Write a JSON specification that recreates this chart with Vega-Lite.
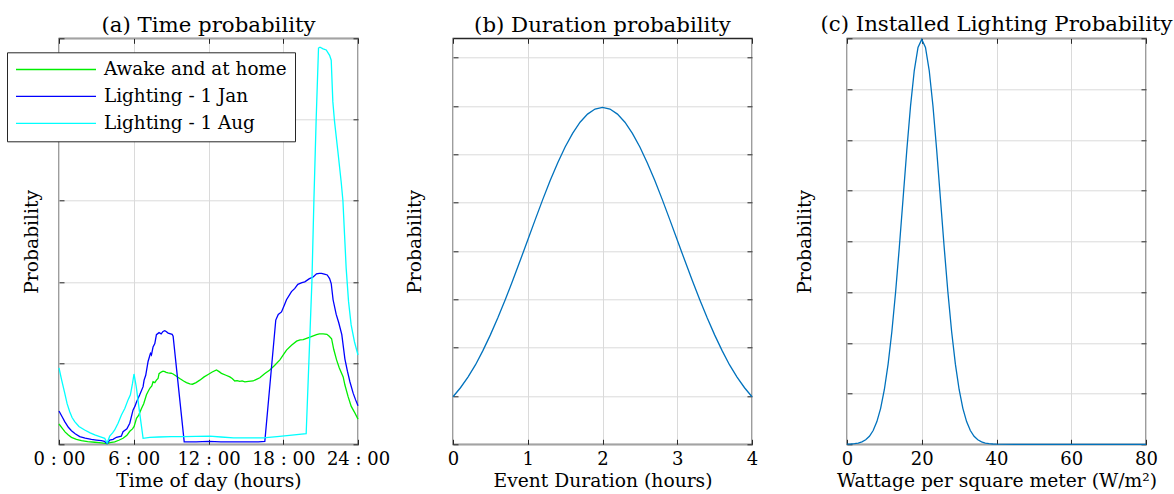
{
  "$schema": "https://vega.github.io/schema/vega-lite/v6.json",
  "padding": {"left": 5, "top": 13.3, "right": 5, "bottom": 5},
  "background": "white",
  "hconcat": [
    {
      "width": 299, "height": 406,
      "title": {"text": "(a) Time probability"},
      "data": {"name": "time"},
      "layer": [
        {
          "mark": {"type": "line", "strokeWidth": 1.3},
          "encoding": {
            "x": {"field": "h", "type": "quantitative", "scale": {"domain": [0, 24], "nice": false, "zero": false},
              "axis": {"values": [0, 6, 12, 18, 24], "labelExpr": "datum.value + ' : 00'", "title": "Time of day (hours)", "titleX": 149.5}},
            "y": {"field": "v", "type": "quantitative", "scale": {"domain": [0, 5], "nice": false},
              "axis": {"values": [0, 1, 2, 3, 4, 5], "title": "Probability", "titleX": -22}},
            "color": {"field": "s", "type": "nominal",
              "scale": {"domain": ["Awake and at home", "Lighting - 1 Jan", "Lighting - 1 Aug"], "range": ["#00ee00", "#0000ff", "#00ffff"]},
              "legend": {"orient": "none", "legendX": -52, "legendY": 14, "title": null, "symbolType": "stroke", "symbolSize": 6400, "symbolStrokeWidth": 1.3, "labelFont": "DejaVu Serif", "labelFontSize": 18.4, "labelColor": "#000000", "labelLimit": 400, "labelOffset": 7, "padding": 8, "clipHeight": 18.4, "rowPadding": 7.9, "strokeColor": "#262626", "fillColor": "#ffffff"}}
          }
        },
        {
          "mark": {"type": "point", "opacity": 0},
          "encoding": {
            "x": {"field": "h", "type": "quantitative", "scale": {"domain": [0, 24], "nice": false, "zero": false},
              "axis": {"orient": "top", "values": [0, 6, 12, 18, 24], "labels": false, "title": null, "grid": false}},
            "y": {"field": "v", "type": "quantitative", "scale": {"domain": [0, 5], "nice": false},
              "axis": {"orient": "right", "values": [0, 1, 2, 3, 4, 5], "labels": false, "title": null, "grid": false}}
          }
        }
      ],
      "resolve": {"axis": {"x": "independent", "y": "independent"}}
    },
    {
      "width": 299, "height": 406,
      "title": {"text": "(b) Duration probability"},
      "data": {"name": "duration"},
      "layer": [
        {
          "mark": {"type": "line", "strokeWidth": 1.3, "color": "#0072BD"},
          "encoding": {
            "x": {"field": "d", "type": "quantitative", "scale": {"domain": [0, 4], "nice": false, "zero": false},
              "axis": {"values": [0, 1, 2, 3, 4], "format": "d", "title": "Event Duration (hours)", "titleX": 149.5}},
            "y": {"field": "p", "type": "quantitative", "scale": {"domain": [0, 0.42], "nice": false},
              "axis": {"values": [0, 0.05, 0.1, 0.15, 0.2, 0.25, 0.3, 0.35, 0.4], "title": "Probability", "titleX": -33}}
          }
        },
        {
          "mark": {"type": "point", "opacity": 0},
          "encoding": {
            "x": {"field": "d", "type": "quantitative", "scale": {"domain": [0, 4], "nice": false, "zero": false},
              "axis": {"orient": "top", "values": [0, 1, 2, 3, 4], "labels": false, "title": null, "grid": false}},
            "y": {"field": "p", "type": "quantitative", "scale": {"domain": [0, 0.42], "nice": false},
              "axis": {"orient": "right", "values": [0, 0.05, 0.1, 0.15, 0.2, 0.25, 0.3, 0.35, 0.4], "labels": false, "title": null, "grid": false}}
          }
        }
      ],
      "resolve": {"axis": {"x": "independent", "y": "independent"}}
    },
    {
      "width": 299, "height": 406,
      "title": {"text": "(c) Installed Lighting Probability"},
      "data": {"name": "wattage"},
      "layer": [
        {
          "mark": {"type": "line", "strokeWidth": 1.3, "color": "#0072BD"},
          "encoding": {
            "x": {"field": "w", "type": "quantitative", "scale": {"domain": [0, 80], "nice": false, "zero": false},
              "axis": {"values": [0, 20, 40, 60, 80], "format": "d", "title": "Wattage per square meter (W/m²)", "titleX": 149.5}},
            "y": {"field": "p", "type": "quantitative", "scale": {"domain": [0, 0.08], "nice": false},
              "axis": {"values": [0, 0.01, 0.02, 0.03, 0.04, 0.05, 0.06, 0.07, 0.08], "title": "Probability", "titleX": -36}}
          }
        },
        {
          "mark": {"type": "point", "opacity": 0},
          "encoding": {
            "x": {"field": "w", "type": "quantitative", "scale": {"domain": [0, 80], "nice": false, "zero": false},
              "axis": {"orient": "top", "values": [0, 20, 40, 60, 80], "labels": false, "title": null, "grid": false}},
            "y": {"field": "p", "type": "quantitative", "scale": {"domain": [0, 0.08], "nice": false},
              "axis": {"orient": "right", "values": [0, 0.01, 0.02, 0.03, 0.04, 0.05, 0.06, 0.07, 0.08], "labels": false, "title": null, "grid": false}}
          }
        }
      ],
      "resolve": {"axis": {"x": "independent", "y": "independent"}}
    }
  ],
  "spacing": 95,
  "bounds": "flush",
  "resolve": {"legend": {"color": "independent"}, "scale": {"color": "independent"}},
  "config": {
    "font": "DejaVu Serif",
    "view": {"stroke": "#262626", "strokeWidth": 1.3},
    "title": {"font": "DejaVu Serif", "fontSize": 21.3, "fontWeight": "normal", "color": "#000000", "anchor": "middle", "frame": "group", "offset": 1, "baseline": "alphabetic"},
    "axis": {"labelFont": "DejaVu Serif", "labelFontSize": 18, "labelColor": "#000000", "titleFont": "DejaVu Serif", "titleFontSize": 18.7, "titleFontWeight": "normal", "titleColor": "#000000", "domain": false, "tickColor": "#262626", "tickSize": -5, "tickWidth": 1, "gridColor": "#dadada", "gridWidth": 1, "grid": true, "labelFlush": false, "labelOverlap": false},
    "axisX": {"labelBaseline": "alphabetic", "labelPadding": 25.7, "titleBaseline": "alphabetic", "titleY": 42.7},
    "axisY": {"labels": false, "titleBaseline": "alphabetic", "titleY": 203}
  },
  "datasets": {
    "time": [
      {"h":0,"v":0.25,"s":"Awake and at home"},{"h":0.25,"v":0.2,"s":"Awake and at home"},{"h":0.5,"v":0.15,"s":"Awake and at home"},{"h":0.75,"v":0.115,"s":"Awake and at home"},{"h":1,"v":0.086,"s":"Awake and at home"},{"h":1.4,"v":0.062,"s":"Awake and at home"},{"h":1.8,"v":0.045,"s":"Awake and at home"},{"h":2.3,"v":0.033,"s":"Awake and at home"},{"h":2.87,"v":0.025,"s":"Awake and at home"},{"h":3.4,"v":0.018,"s":"Awake and at home"},{"h":3.86,"v":0.008,"s":"Awake and at home"},{"h":4.1,"v":0.02,"s":"Awake and at home"},{"h":4.47,"v":0.03,"s":"Awake and at home"},{"h":4.8,"v":0.05,"s":"Awake and at home"},{"h":5.14,"v":0.074,"s":"Awake and at home"},{"h":5.45,"v":0.11,"s":"Awake and at home"},{"h":5.68,"v":0.16,"s":"Awake and at home"},{"h":5.9,"v":0.19,"s":"Awake and at home"},{"h":6.03,"v":0.22,"s":"Awake and at home"},{"h":6.22,"v":0.32,"s":"Awake and at home"},{"h":6.4,"v":0.36,"s":"Awake and at home"},{"h":6.62,"v":0.44,"s":"Awake and at home"},{"h":6.8,"v":0.5,"s":"Awake and at home"},{"h":7.02,"v":0.61,"s":"Awake and at home"},{"h":7.15,"v":0.65,"s":"Awake and at home"},{"h":7.29,"v":0.69,"s":"Awake and at home"},{"h":7.45,"v":0.72,"s":"Awake and at home"},{"h":7.55,"v":0.77,"s":"Awake and at home"},{"h":7.69,"v":0.76,"s":"Awake and at home"},{"h":7.82,"v":0.79,"s":"Awake and at home"},{"h":7.95,"v":0.81,"s":"Awake and at home"},{"h":8.03,"v":0.87,"s":"Awake and at home"},{"h":8.2,"v":0.89,"s":"Awake and at home"},{"h":8.35,"v":0.9,"s":"Awake and at home"},{"h":8.49,"v":0.894,"s":"Awake and at home"},{"h":8.6,"v":0.885,"s":"Awake and at home"},{"h":8.76,"v":0.88,"s":"Awake and at home"},{"h":9,"v":0.875,"s":"Awake and at home"},{"h":9.16,"v":0.866,"s":"Awake and at home"},{"h":9.4,"v":0.84,"s":"Awake and at home"},{"h":9.69,"v":0.81,"s":"Awake and at home"},{"h":10,"v":0.78,"s":"Awake and at home"},{"h":10.23,"v":0.76,"s":"Awake and at home"},{"h":10.5,"v":0.745,"s":"Awake and at home"},{"h":10.71,"v":0.74,"s":"Awake and at home"},{"h":11,"v":0.76,"s":"Awake and at home"},{"h":11.3,"v":0.79,"s":"Awake and at home"},{"h":11.65,"v":0.83,"s":"Awake and at home"},{"h":11.97,"v":0.86,"s":"Awake and at home"},{"h":12.3,"v":0.89,"s":"Awake and at home"},{"h":12.64,"v":0.915,"s":"Awake and at home"},{"h":12.85,"v":0.895,"s":"Awake and at home"},{"h":13.04,"v":0.874,"s":"Awake and at home"},{"h":13.4,"v":0.85,"s":"Awake and at home"},{"h":13.71,"v":0.83,"s":"Awake and at home"},{"h":13.9,"v":0.81,"s":"Awake and at home"},{"h":14.11,"v":0.78,"s":"Awake and at home"},{"h":14.3,"v":0.785,"s":"Awake and at home"},{"h":14.51,"v":0.775,"s":"Awake and at home"},{"h":14.7,"v":0.78,"s":"Awake and at home"},{"h":14.92,"v":0.77,"s":"Awake and at home"},{"h":15.2,"v":0.775,"s":"Awake and at home"},{"h":15.58,"v":0.78,"s":"Awake and at home"},{"h":15.85,"v":0.8,"s":"Awake and at home"},{"h":16.12,"v":0.82,"s":"Awake and at home"},{"h":16.5,"v":0.87,"s":"Awake and at home"},{"h":16.92,"v":0.915,"s":"Awake and at home"},{"h":17.3,"v":0.97,"s":"Awake and at home"},{"h":17.73,"v":1.04,"s":"Awake and at home"},{"h":18,"v":1.1,"s":"Awake and at home"},{"h":18.26,"v":1.16,"s":"Awake and at home"},{"h":18.66,"v":1.22,"s":"Awake and at home"},{"h":19.07,"v":1.27,"s":"Awake and at home"},{"h":19.35,"v":1.285,"s":"Awake and at home"},{"h":19.6,"v":1.29,"s":"Awake and at home"},{"h":20.14,"v":1.32,"s":"Awake and at home"},{"h":20.67,"v":1.35,"s":"Awake and at home"},{"h":20.9,"v":1.36,"s":"Awake and at home"},{"h":21.2,"v":1.36,"s":"Awake and at home"},{"h":21.5,"v":1.355,"s":"Awake and at home"},{"h":21.69,"v":1.33,"s":"Awake and at home"},{"h":21.88,"v":1.3,"s":"Awake and at home"},{"h":22.05,"v":1.17,"s":"Awake and at home"},{"h":22.28,"v":1.04,"s":"Awake and at home"},{"h":22.5,"v":0.94,"s":"Awake and at home"},{"h":22.81,"v":0.83,"s":"Awake and at home"},{"h":22.95,"v":0.73,"s":"Awake and at home"},{"h":23.2,"v":0.59,"s":"Awake and at home"},{"h":23.45,"v":0.47,"s":"Awake and at home"},{"h":23.7,"v":0.4,"s":"Awake and at home"},{"h":24,"v":0.31,"s":"Awake and at home"},
      {"h":0,"v":0.41,"s":"Lighting - 1 Jan"},{"h":0.25,"v":0.34,"s":"Lighting - 1 Jan"},{"h":0.46,"v":0.28,"s":"Lighting - 1 Jan"},{"h":0.75,"v":0.21,"s":"Lighting - 1 Jan"},{"h":1,"v":0.168,"s":"Lighting - 1 Jan"},{"h":1.3,"v":0.13,"s":"Lighting - 1 Jan"},{"h":1.66,"v":0.094,"s":"Lighting - 1 Jan"},{"h":2.1,"v":0.075,"s":"Lighting - 1 Jan"},{"h":2.6,"v":0.06,"s":"Lighting - 1 Jan"},{"h":3,"v":0.052,"s":"Lighting - 1 Jan"},{"h":3.4,"v":0.045,"s":"Lighting - 1 Jan"},{"h":3.65,"v":0.035,"s":"Lighting - 1 Jan"},{"h":3.86,"v":0.01,"s":"Lighting - 1 Jan"},{"h":4.07,"v":0.053,"s":"Lighting - 1 Jan"},{"h":4.34,"v":0.06,"s":"Lighting - 1 Jan"},{"h":4.61,"v":0.086,"s":"Lighting - 1 Jan"},{"h":5,"v":0.1,"s":"Lighting - 1 Jan"},{"h":5.14,"v":0.155,"s":"Lighting - 1 Jan"},{"h":5.45,"v":0.19,"s":"Lighting - 1 Jan"},{"h":5.68,"v":0.26,"s":"Lighting - 1 Jan"},{"h":5.94,"v":0.42,"s":"Lighting - 1 Jan"},{"h":6.1,"v":0.47,"s":"Lighting - 1 Jan"},{"h":6.22,"v":0.52,"s":"Lighting - 1 Jan"},{"h":6.48,"v":0.61,"s":"Lighting - 1 Jan"},{"h":6.75,"v":0.71,"s":"Lighting - 1 Jan"},{"h":6.83,"v":0.79,"s":"Lighting - 1 Jan"},{"h":6.96,"v":0.85,"s":"Lighting - 1 Jan"},{"h":7.15,"v":1.02,"s":"Lighting - 1 Jan"},{"h":7.34,"v":1.12,"s":"Lighting - 1 Jan"},{"h":7.42,"v":1.1,"s":"Lighting - 1 Jan"},{"h":7.55,"v":1.2,"s":"Lighting - 1 Jan"},{"h":7.69,"v":1.24,"s":"Lighting - 1 Jan"},{"h":7.82,"v":1.35,"s":"Lighting - 1 Jan"},{"h":8.03,"v":1.375,"s":"Lighting - 1 Jan"},{"h":8.2,"v":1.36,"s":"Lighting - 1 Jan"},{"h":8.35,"v":1.39,"s":"Lighting - 1 Jan"},{"h":8.49,"v":1.4,"s":"Lighting - 1 Jan"},{"h":8.6,"v":1.39,"s":"Lighting - 1 Jan"},{"h":8.76,"v":1.37,"s":"Lighting - 1 Jan"},{"h":9.08,"v":1.355,"s":"Lighting - 1 Jan"},{"h":9.16,"v":1.33,"s":"Lighting - 1 Jan"},{"h":10.05,"v":0.03,"s":"Lighting - 1 Jan"},{"h":11,"v":0.03,"s":"Lighting - 1 Jan"},{"h":12,"v":0.035,"s":"Lighting - 1 Jan"},{"h":13,"v":0.03,"s":"Lighting - 1 Jan"},{"h":14,"v":0.03,"s":"Lighting - 1 Jan"},{"h":15,"v":0.03,"s":"Lighting - 1 Jan"},{"h":16,"v":0.03,"s":"Lighting - 1 Jan"},{"h":16.52,"v":0.035,"s":"Lighting - 1 Jan"},{"h":17.4,"v":1.53,"s":"Lighting - 1 Jan"},{"h":17.6,"v":1.6,"s":"Lighting - 1 Jan"},{"h":17.86,"v":1.63,"s":"Lighting - 1 Jan"},{"h":18.1,"v":1.72,"s":"Lighting - 1 Jan"},{"h":18.26,"v":1.78,"s":"Lighting - 1 Jan"},{"h":18.66,"v":1.88,"s":"Lighting - 1 Jan"},{"h":18.93,"v":1.92,"s":"Lighting - 1 Jan"},{"h":19.17,"v":1.97,"s":"Lighting - 1 Jan"},{"h":19.5,"v":1.99,"s":"Lighting - 1 Jan"},{"h":19.73,"v":2,"s":"Lighting - 1 Jan"},{"h":20.1,"v":2.04,"s":"Lighting - 1 Jan"},{"h":20.4,"v":2.06,"s":"Lighting - 1 Jan"},{"h":20.67,"v":2.1,"s":"Lighting - 1 Jan"},{"h":20.9,"v":2.105,"s":"Lighting - 1 Jan"},{"h":21.07,"v":2.105,"s":"Lighting - 1 Jan"},{"h":21.3,"v":2.095,"s":"Lighting - 1 Jan"},{"h":21.53,"v":2.085,"s":"Lighting - 1 Jan"},{"h":21.72,"v":2.04,"s":"Lighting - 1 Jan"},{"h":21.85,"v":1.98,"s":"Lighting - 1 Jan"},{"h":22,"v":1.78,"s":"Lighting - 1 Jan"},{"h":22.25,"v":1.6,"s":"Lighting - 1 Jan"},{"h":22.45,"v":1.5,"s":"Lighting - 1 Jan"},{"h":22.7,"v":1.35,"s":"Lighting - 1 Jan"},{"h":22.95,"v":1.05,"s":"Lighting - 1 Jan"},{"h":23.15,"v":0.9,"s":"Lighting - 1 Jan"},{"h":23.35,"v":0.77,"s":"Lighting - 1 Jan"},{"h":23.61,"v":0.63,"s":"Lighting - 1 Jan"},{"h":23.8,"v":0.55,"s":"Lighting - 1 Jan"},{"h":24,"v":0.475,"s":"Lighting - 1 Jan"},
      {"h":0,"v":0.94,"s":"Lighting - 1 Aug"},{"h":0.2,"v":0.8,"s":"Lighting - 1 Aug"},{"h":0.46,"v":0.63,"s":"Lighting - 1 Aug"},{"h":0.65,"v":0.5,"s":"Lighting - 1 Aug"},{"h":0.86,"v":0.4,"s":"Lighting - 1 Aug"},{"h":1.05,"v":0.33,"s":"Lighting - 1 Aug"},{"h":1.26,"v":0.28,"s":"Lighting - 1 Aug"},{"h":1.6,"v":0.22,"s":"Lighting - 1 Aug"},{"h":2.06,"v":0.176,"s":"Lighting - 1 Aug"},{"h":2.5,"v":0.14,"s":"Lighting - 1 Aug"},{"h":2.87,"v":0.115,"s":"Lighting - 1 Aug"},{"h":3.27,"v":0.094,"s":"Lighting - 1 Aug"},{"h":3.67,"v":0.074,"s":"Lighting - 1 Aug"},{"h":3.86,"v":0.015,"s":"Lighting - 1 Aug"},{"h":4.07,"v":0.1,"s":"Lighting - 1 Aug"},{"h":4.3,"v":0.14,"s":"Lighting - 1 Aug"},{"h":4.47,"v":0.176,"s":"Lighting - 1 Aug"},{"h":4.74,"v":0.26,"s":"Lighting - 1 Aug"},{"h":5.01,"v":0.36,"s":"Lighting - 1 Aug"},{"h":5.28,"v":0.44,"s":"Lighting - 1 Aug"},{"h":5.55,"v":0.55,"s":"Lighting - 1 Aug"},{"h":5.73,"v":0.61,"s":"Lighting - 1 Aug"},{"h":5.9,"v":0.75,"s":"Lighting - 1 Aug"},{"h":6.02,"v":0.866,"s":"Lighting - 1 Aug"},{"h":6.2,"v":0.71,"s":"Lighting - 1 Aug"},{"h":6.48,"v":0.38,"s":"Lighting - 1 Aug"},{"h":6.75,"v":0.074,"s":"Lighting - 1 Aug"},{"h":7.29,"v":0.086,"s":"Lighting - 1 Aug"},{"h":8,"v":0.09,"s":"Lighting - 1 Aug"},{"h":9,"v":0.094,"s":"Lighting - 1 Aug"},{"h":10,"v":0.095,"s":"Lighting - 1 Aug"},{"h":11,"v":0.098,"s":"Lighting - 1 Aug"},{"h":12.1,"v":0.1,"s":"Lighting - 1 Aug"},{"h":13,"v":0.09,"s":"Lighting - 1 Aug"},{"h":14,"v":0.08,"s":"Lighting - 1 Aug"},{"h":15,"v":0.08,"s":"Lighting - 1 Aug"},{"h":16.4,"v":0.08,"s":"Lighting - 1 Aug"},{"h":17.5,"v":0.095,"s":"Lighting - 1 Aug"},{"h":18.5,"v":0.11,"s":"Lighting - 1 Aug"},{"h":19.84,"v":0.13,"s":"Lighting - 1 Aug"},{"h":20.3,"v":2,"s":"Lighting - 1 Aug"},{"h":20.46,"v":3,"s":"Lighting - 1 Aug"},{"h":20.64,"v":3.99,"s":"Lighting - 1 Aug"},{"h":20.83,"v":4.88,"s":"Lighting - 1 Aug"},{"h":20.95,"v":4.89,"s":"Lighting - 1 Aug"},{"h":21.2,"v":4.87,"s":"Lighting - 1 Aug"},{"h":21.45,"v":4.856,"s":"Lighting - 1 Aug"},{"h":21.72,"v":4.79,"s":"Lighting - 1 Aug"},{"h":21.85,"v":4.73,"s":"Lighting - 1 Aug"},{"h":21.98,"v":4.22,"s":"Lighting - 1 Aug"},{"h":22.12,"v":3.97,"s":"Lighting - 1 Aug"},{"h":22.39,"v":3.6,"s":"Lighting - 1 Aug"},{"h":22.65,"v":3.23,"s":"Lighting - 1 Aug"},{"h":22.79,"v":3,"s":"Lighting - 1 Aug"},{"h":22.92,"v":2.58,"s":"Lighting - 1 Aug"},{"h":23.05,"v":2.17,"s":"Lighting - 1 Aug"},{"h":23.24,"v":1.76,"s":"Lighting - 1 Aug"},{"h":23.45,"v":1.47,"s":"Lighting - 1 Aug"},{"h":23.72,"v":1.26,"s":"Lighting - 1 Aug"},{"h":24,"v":1.1,"s":"Lighting - 1 Aug"}
    ],
    "duration": [
      {"d":0,"p":0.0492},{"d":0.1,"p":0.0585},{"d":0.2,"p":0.0695},{"d":0.3,"p":0.0821},{"d":0.4,"p":0.0969},{"d":0.5,"p":0.1132},{"d":0.6,"p":0.1308},{"d":0.7,"p":0.1497},{"d":0.8,"p":0.1696},{"d":0.9,"p":0.1903},{"d":1,"p":0.2114},{"d":1.1,"p":0.2324},{"d":1.2,"p":0.2531},{"d":1.3,"p":0.2728},{"d":1.4,"p":0.2911},{"d":1.5,"p":0.3076},{"d":1.6,"p":0.3217},{"d":1.7,"p":0.3332},{"d":1.8,"p":0.3416},{"d":1.9,"p":0.3468},{"d":2,"p":0.3485},
      {"d":2.1,"p":0.3468},{"d":2.2,"p":0.3416},{"d":2.3,"p":0.3332},{"d":2.4,"p":0.3217},{"d":2.5,"p":0.3076},{"d":2.6,"p":0.2911},{"d":2.7,"p":0.2728},{"d":2.8,"p":0.2531},{"d":2.9,"p":0.2324},{"d":3,"p":0.2114},{"d":3.1,"p":0.1903},{"d":3.2,"p":0.1696},{"d":3.3,"p":0.1497},{"d":3.4,"p":0.1308},{"d":3.5,"p":0.1132},{"d":3.6,"p":0.0969},{"d":3.7,"p":0.0821},{"d":3.8,"p":0.0695},{"d":3.9,"p":0.0585},{"d":4,"p":0.0492}
    ],
    "wattage": [
      {"w":0,"p":0.00003},{"w":1,"p":0.00006},{"w":2,"p":0.00012},{"w":3,"p":0.00025},{"w":4,"p":0.00048},{"w":5,"p":0.00089},{"w":6,"p":0.00158},{"w":7,"p":0.00272},{"w":8,"p":0.00448},{"w":9,"p":0.00709},{"w":10,"p":0.0108},{"w":11,"p":0.01579},{"w":12,"p":0.02218},{"w":13,"p":0.02995},{"w":14,"p":0.03884},{"w":15,"p":0.04839},{"w":16,"p":0.05794},{"w":17,"p":0.06665},{"w":18,"p":0.07365},{"w":19,"p":0.07821},{"w":20,"p":0.07979},
      {"w":21,"p":0.07821},{"w":22,"p":0.07365},{"w":23,"p":0.06665},{"w":24,"p":0.05794},{"w":25,"p":0.04839},{"w":26,"p":0.03884},{"w":27,"p":0.02995},{"w":28,"p":0.02218},{"w":29,"p":0.01579},{"w":30,"p":0.0108},{"w":31,"p":0.00709},{"w":32,"p":0.00448},{"w":33,"p":0.00272},{"w":34,"p":0.00158},{"w":35,"p":0.00089},{"w":36,"p":0.00048},{"w":37,"p":0.00025},{"w":38,"p":0.00012},{"w":39,"p":0.00006},{"w":40,"p":0.00003},
      {"w":45,"p":0},{"w":50,"p":0},{"w":55,"p":0},{"w":60,"p":0},{"w":65,"p":0},{"w":70,"p":0},{"w":75,"p":0},{"w":80,"p":0}
    ]
  }
}
